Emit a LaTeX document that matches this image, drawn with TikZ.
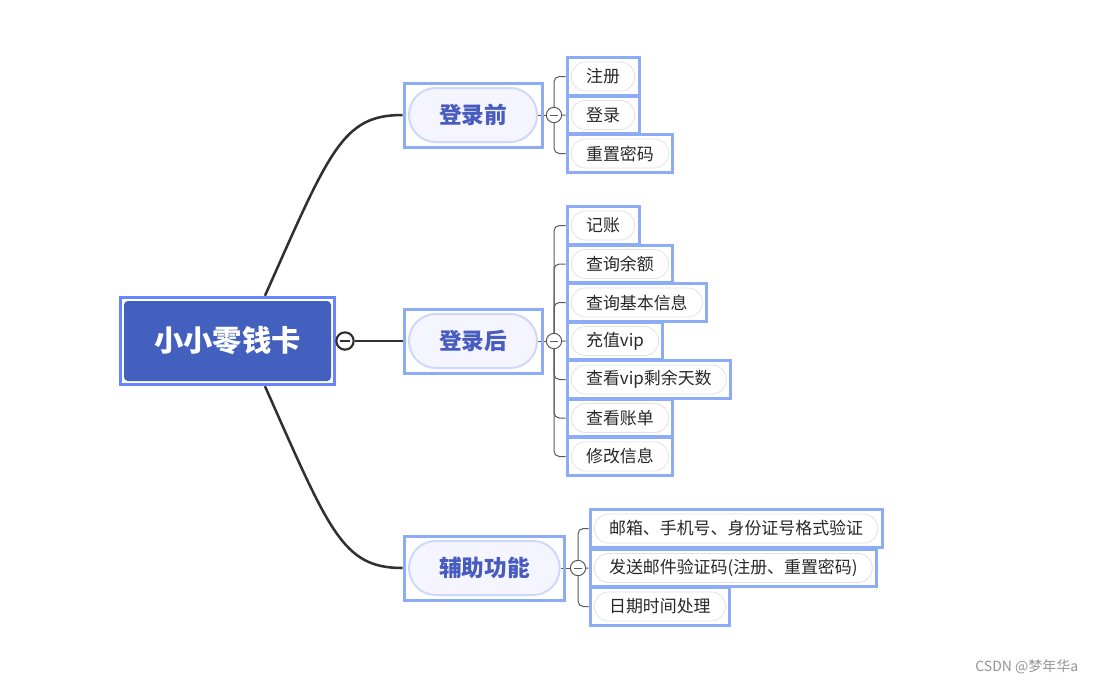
\documentclass[tikz,border=0pt]{standalone}
\usepackage{fontspec}
\setmainfont{Noto Sans CJK SC}
\usetikzlibrary{positioning,fit,backgrounds}

\definecolor{rootfill}{RGB}{67,96,190}
\definecolor{rootedge}{RGB}{104,132,255}
\definecolor{boxedge}{RGB}{140,172,246}
\definecolor{pillfill}{RGB}{244,245,254}
\definecolor{pilledge}{RGB}{206,216,252}
\definecolor{topictext}{RGB}{72,92,192}
\definecolor{leafedge}{RGB}{226,226,226}
\definecolor{leaftext}{RGB}{40,40,40}
\definecolor{linedark}{RGB}{48,48,48}
\definecolor{foldgray}{RGB}{90,90,90}

\tikzset{
  rootnode/.style={rectangle, rounded corners=3pt, fill=rootfill, text=white,
    minimum width=155.25pt, minimum height=60pt, font=\fontsize{22}{26}\selectfont\bfseries},
  topicnode/.style={rectangle, rounded corners=20pt, draw=pilledge, line width=1.5pt,
    fill=pillfill, text=topictext, minimum height=40.5pt, inner xsep=22.5pt,
    font=\fontsize{17}{20}\selectfont\bfseries},
  leafnode/.style={rectangle, rounded corners=10.5pt, draw=leafedge, line width=0.6pt,
    fill=white, text=leaftext, minimum height=21.75pt, inner xsep=11pt, inner ysep=0pt,
    font=\fontsize{12.7}{15}\selectfont},
  selbox/.style={rectangle, draw=boxedge, line width=2.25pt, inner sep=3pt},
  rootbox/.style={selbox, draw=rootedge, inner sep=2.6pt},
  foldmark/.style={circle, draw=foldgray, fill=white, line width=0.75pt,
    minimum size=11.5pt, inner sep=0pt,
    path picture={\draw[line width=0.75pt, foldgray]
      ([xshift=-3pt]path picture bounding box.center) -- ([xshift=3pt]path picture bounding box.center);}},
  rootfold/.style={circle, draw=linedark, fill=white, line width=1.6pt,
    minimum size=13pt, inner sep=0pt,
    path picture={\draw[line width=1.4pt, linedark]
      ([xshift=-3.5pt]path picture bounding box.center) -- ([xshift=3.5pt]path picture bounding box.center);}},
  mainline/.style={draw=linedark, line width=1.9pt},
  subline/.style={draw=foldgray, line width=0.75pt, rounded corners=4pt},
}

\begin{document}
\begin{tikzpicture}[x=0.75pt,y=0.75pt,yscale=-1,xscale=1]
\useasboundingbox (0,0) rectangle (1096,686);

% central topic
\node[rootnode] (root) at (227.5,341) {小小零钱卡};
\node[rootbox, fit=(root)] (rootframe) {};
\node[rootfold] (rootfold) at (345,341) {};

% main topics
\node[topicnode, anchor=west] (before) at (408,115) {登录前};
\node[selbox, fit=(before)] (beforeframe) {};
\node[foldmark] (beforefold) at (554,115) {};

\node[topicnode, anchor=west] (after) at (408,341) {登录后};
\node[selbox, fit=(after)] (afterframe) {};
\node[foldmark] (afterfold) at (554,341) {};

\node[topicnode, anchor=west] (helper) at (408,568) {辅助功能};
\node[selbox, fit=(helper)] (helperframe) {};
\node[foldmark] (helperfold) at (578,568) {};

% connectors from the central topic
\begin{scope}[on background layer]
\draw[mainline] (rootframe.east) -- (rootfold);
\draw[mainline] (rootfold) -- (afterframe.west);
\draw[mainline] ([xshift=28.1pt]rootframe.north) .. controls +(-66:160) and +(-60,0) .. (beforeframe.west);
\draw[mainline] ([xshift=28.1pt]rootframe.south) .. controls +(66:160) and +(-60,0) .. (helperframe.west);
\draw[subline] (before.east) -- (beforefold);
\draw[subline] (after.east) -- (afterfold);
\draw[subline] (helper.east) -- (helperfold);
\end{scope}

% subtopics
\foreach \n/\y/\t in {1/76.5/注册, 2/115/登录, 3/153.5/重置密码}{
  \node[leafnode, anchor=west] (pre\n) at (571,\y) {\t};
  \node[selbox, fit=(pre\n)] (preframe\n) {};
  \begin{scope}[on background layer]
    \draw[subline] (beforefold.center) |- (preframe\n.west);
  \end{scope}
}

\foreach \n/\y/\t in {1/225.5/记账, 2/264/查询余额, 3/302.5/查询基本信息, 4/341/充值vip,
    5/379.5/查看vip剩余天数, 6/418/查看账单, 7/456.5/修改信息}{
  \node[leafnode, anchor=west] (post\n) at (571,\y) {\t};
  \node[selbox, fit=(post\n)] (postframe\n) {};
  \begin{scope}[on background layer]
    \draw[subline] (afterfold.center) |- (postframe\n.west);
  \end{scope}
}

\foreach \n/\y/\t in {1/528.5/{邮箱、手机号、身份证号格式验证}, 2/568/{发送邮件验证码(注册、重置密码)},
    3/606.5/{日期时间处理}}{
  \node[leafnode, anchor=west] (aux\n) at (594,\y) {\t};
  \node[selbox, fit=(aux\n)] (auxframe\n) {};
  \begin{scope}[on background layer]
    \draw[subline] (helperfold.center) |- (auxframe\n.west);
  \end{scope}
}

% watermark
\node[anchor=east, text=black!42, font=\fontsize{10.5}{12}\selectfont] (mark) at (1083,667) {CSDN @梦年华a};

\end{tikzpicture}
\end{document}
